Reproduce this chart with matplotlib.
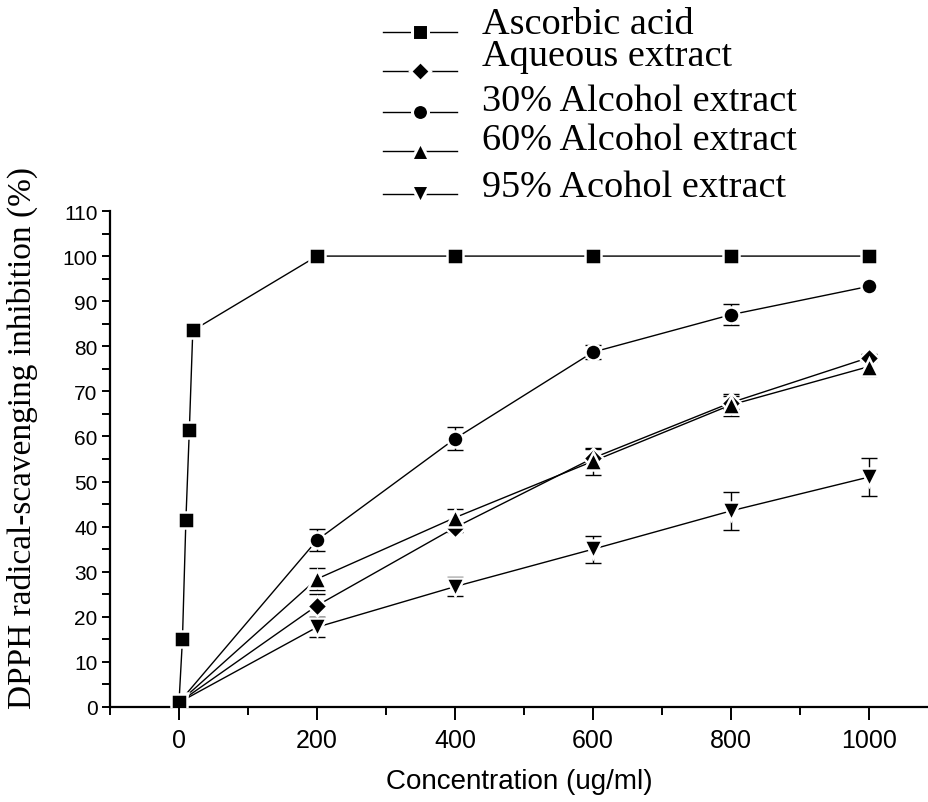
import matplotlib
matplotlib.use("Agg")
import matplotlib.pyplot as plt
from matplotlib.lines import Line2D
from matplotlib.ticker import MultipleLocator

# ---- data ----
x_asc = [0, 5, 10, 15, 20, 200, 400, 600, 800, 1000]
y_asc = [1, 15, 41.5, 61.5, 83.5, 100, 100, 100, 100, 100]
e_asc = [0, 0.5, 1.2, 1.0, 0.8, 0, 0, 0, 0, 0]

x_ext = [0, 200, 400, 600, 800, 1000]
y_aq = [1, 22.5, 39.8, 55.2, 67.5, 77.5]
e_aq = [0, 2.5, 1.0, 2.0, 1.5, 0.8]
y_30 = [1, 37.0, 59.5, 78.7, 87.0, 93.3]
e_30 = [0, 2.5, 2.6, 1.5, 2.3, 0.5]
y_60 = [1, 28.4, 42.0, 54.5, 67.0, 75.5]
e_60 = [0, 2.4, 2.0, 3.0, 2.5, 2.0]
y_95 = [1, 17.7, 26.7, 35.0, 43.5, 51.0]
e_95 = [0, 2.2, 2.1, 3.0, 4.2, 4.3]

labels = ['Ascorbic acid', 'Aqueous extract', '30% Alcohol extract',
          '60% Alcohol extract', '95% Acohol extract']
markers = ['s', 'D', 'o', '^', 'v']
msizes = [11, 10, 11.5, 13, 13]

series = [(x_asc, y_asc, e_asc), (x_ext, y_aq, e_aq), (x_ext, y_30, e_30),
          (x_ext, y_60, e_60), (x_ext, y_95, e_95)]

W, H = 929, 803
fig = plt.figure(figsize=(W / 100, H / 100), dpi=100)
ax = fig.add_axes([110 / W, (H - 708) / H, (W - 110) / W, (708 - 212) / H])

sans = ['Liberation Sans Narrow', 'Liberation Sans', 'DejaVu Sans']
serif = ['Liberation Serif', 'DejaVu Serif']

# ascorbic acid drawn on top so its square at 0 stays visible
zbase = [6, 0, 0, 0, 0]
for (xs, ys, es), m, ms, zb in zip(series, markers, msizes, zbase):
    ax.plot(xs, ys, '-', color='black', lw=1.0, zorder=1 + zb)
    ax.errorbar(xs, ys, yerr=es, fmt='none', ecolor='black', elinewidth=1.0,
                capsize=6, capthick=1.0, zorder=2 + zb)
    ax.plot(xs, ys, linestyle='none', marker=m, markersize=ms,
            markerfacecolor='black', markeredgecolor='white',
            markeredgewidth=1.8, zorder=3 + zb)

ax.set_xlim(-100, 1087)
ax.set_ylim(0, 110)
ax.xaxis.set_major_locator(MultipleLocator(200))
ax.xaxis.set_minor_locator(MultipleLocator(100))
ax.yaxis.set_major_locator(MultipleLocator(10))
ax.yaxis.set_minor_locator(MultipleLocator(5))

for s in ['top', 'right']:
    ax.spines[s].set_visible(False)
for s in ['left', 'bottom']:
    ax.spines[s].set_linewidth(1.6)

ax.tick_params(axis='x', which='major', length=9, width=1.4, direction='out', pad=6)
ax.tick_params(axis='x', which='minor', length=6, width=1.4, direction='out')
ax.tick_params(axis='y', which='both', length=6, width=1.4, direction='out', pad=3)

for lab in ax.get_xticklabels():
    lab.set_fontfamily(sans)
    lab.set_fontsize(18)
for lab in ax.get_yticklabels():
    lab.set_fontfamily(sans)
    lab.set_fontsize(15)

ax.set_xlabel('Concentration (ug/ml)', fontsize=20, family=sans, labelpad=12)
ax.set_ylabel('DPPH radical-scavenging inhibition (%)', fontsize=24,
              family=serif, labelpad=4)
ax.yaxis.set_label_coords(-72 / (W - 110), 0.545)

# legend drawn by hand so rows sit where they do in the reference
marker_y = [33, 72, 113, 152, 195]
text_y = [25, 57, 102, 141, 188]
for m, ms, my, ty, lab in zip(markers, msizes, marker_y, text_y, labels):
    fy = 1 - my / H
    fig.add_artist(Line2D([383 / W, 457 / W], [fy, fy], color='black', lw=1.0,
                          transform=fig.transFigure))
    fig.add_artist(Line2D([420 / W], [fy], linestyle='none', marker=m,
                          markersize=ms, markerfacecolor='black',
                          markeredgecolor='white', markeredgewidth=2.2,
                          transform=fig.transFigure))
    fig.text(482 / W, 1 - ty / H, lab, fontsize=27.5, family=serif,
             va='center', ha='left')

fig.savefig('out.png', dpi=100)
